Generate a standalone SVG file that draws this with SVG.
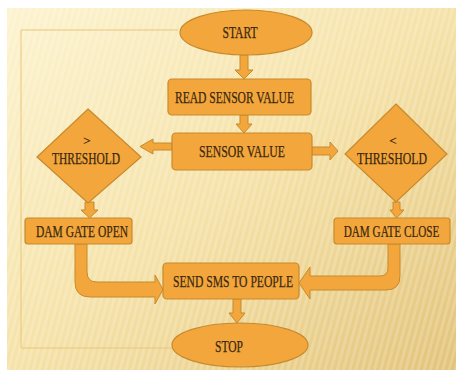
<svg xmlns="http://www.w3.org/2000/svg" width="456" height="370" viewBox="0 0 456 370">
<defs>
<linearGradient id="bg" x1="0" y1="0" x2="1" y2="1">
<stop offset="0" stop-color="#fcf3cf"/>
<stop offset="0.5" stop-color="#f5e2a8"/>
<stop offset="1" stop-color="#e2c37a"/>
</linearGradient>
<pattern id="stripes" width="6" height="6" patternUnits="userSpaceOnUse" patternTransform="rotate(15)">
<rect width="3" height="6" fill="#ffffff" opacity="0.18"/>
</pattern>
<style>
.shape{fill:#f3a63b;stroke:#c78a2d;stroke-width:1.2}
.arrow{fill:#f3a63b;stroke:#c78a2d;stroke-width:1}
.lbl{font-family:"Liberation Serif","Times New Roman",serif;font-size:16px;fill:#3a2810;stroke:#3a2810;stroke-width:0.25;text-anchor:middle}
.frame{fill:none;stroke:#e9c77a;stroke-width:1}
</style>
</defs>
<rect x="7" y="8" width="449" height="362" fill="url(#bg)"/>
<rect x="7" y="8" width="449" height="362" fill="url(#stripes)"/>
<path class="frame" d="M178,30 H21 V348 H172"/>
<g id="connectors">
<path class="arrow" d="M240,55 H248 V70 H253 L244,79 L235,70 H240 Z"/>
<path class="arrow" d="M240,115 H248 V124 H252 L244,133 L236,124 H240 Z"/>
<path class="arrow" d="M172,143 V150 H153 V154 L140,146.5 L153,139 V143 Z"/>
<path class="arrow" d="M312,147 V155 H330 V160 L338,151 L330,142 V147 Z"/>
<path class="arrow" d="M85,202 H94 V210 H98 L89.5,218 L81,210 H85 Z"/>
<path class="arrow" d="M393,202 H400 V210 H404 L396.5,218 L390,210 H393 Z"/>
<path class="arrow" d="M75,244 V282 Q75,297 90,297 H155 V304 L163,289.5 L155,275 V282 H97 Q87,282 87,272 V244 Z"/>
<path class="arrow" d="M400,244 V276 Q400,290 386,290 H310 V299 L299,283 L310,267 V276 H380 Q388,276 388,268 V244 Z"/>
<path class="arrow" d="M233,299 H241 V313 H245 L237,323 L229,313 H233 Z"/>
</g>
<g id="start">
<ellipse class="shape" cx="246" cy="32.5" rx="66" ry="22.5"/>
<text class="lbl" x="240" y="37.5" textLength="35" lengthAdjust="spacingAndGlyphs">START</text>
</g>
<g id="read">
<rect class="shape" x="168" y="79" width="143" height="36" rx="4"/>
<text class="lbl" x="234.5" y="103" textLength="119" lengthAdjust="spacingAndGlyphs">READ SENSOR VALUE</text>
</g>
<g id="sensor">
<rect class="shape" x="172" y="133" width="140" height="37" rx="4"/>
<text class="lbl" x="242" y="157" textLength="86" lengthAdjust="spacingAndGlyphs">SENSOR VALUE</text>
</g>
<g id="gt">
<polygon class="shape" points="88,109 141,157 88,203 37,157"/>
<text class="lbl" x="87" y="145" style="font-size:13px">&gt;</text>
<text class="lbl" x="86" y="164" textLength="68" lengthAdjust="spacingAndGlyphs">THRESHOLD</text>
</g>
<g id="lt">
<polygon class="shape" points="396,104 447,154 396,202 345,154"/>
<text class="lbl" x="393" y="145" style="font-size:13px">&lt;</text>
<text class="lbl" x="392" y="164" textLength="70" lengthAdjust="spacingAndGlyphs">THRESHOLD</text>
</g>
<g id="open">
<rect class="shape" x="25" y="218" width="107" height="26" rx="3"/>
<text class="lbl" x="82" y="237" textLength="92" lengthAdjust="spacingAndGlyphs">DAM GATE OPEN</text>
</g>
<g id="close">
<rect class="shape" x="334" y="218" width="116" height="26" rx="3"/>
<text class="lbl" transform="translate(391.5,237) scale(0.7,1)" x="0" y="0">DAM GATE CLOSE</text>
</g>
<g id="sms">
<rect class="shape" x="163" y="263" width="136" height="36" rx="4"/>
<text class="lbl" x="233" y="287" textLength="120" lengthAdjust="spacingAndGlyphs">SEND SMS TO PEOPLE</text>
</g>
<g id="stop">
<ellipse class="shape" cx="240" cy="345" rx="68" ry="22"/>
<text class="lbl" x="229" y="352" textLength="28" lengthAdjust="spacingAndGlyphs">STOP</text>
</g>
</svg>
